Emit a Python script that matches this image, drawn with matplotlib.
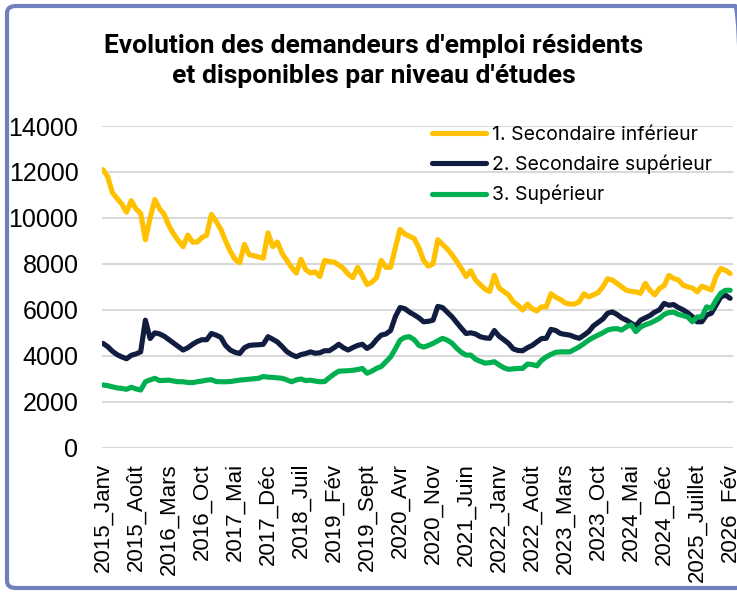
import matplotlib
matplotlib.use("Agg")
import matplotlib.pyplot as plt
from matplotlib.patches import FancyBboxPatch

# ── monthly data, 2015_Janv .. 2026_Fév (134 months) ───────────────────────
SEC_INF = [
    12100, 11800, 11100, 10850, 10600, 10250, 10750, 10400, 10200, 9050,
    10000, 10800, 10400, 10150, 9650, 9300, 9000, 8750, 9250, 8950,
    8950, 9150, 9250, 10150, 9850, 9500, 9000, 8550, 8200, 8050,
    8850, 8400, 8350, 8300, 8250, 9350, 8750, 8950, 8450, 8150,
    7850, 7600, 8200, 7750, 7600, 7650, 7450, 8150, 8100, 8080,
    7950, 7800, 7550, 7400, 7850, 7500, 7100, 7200, 7400, 8150,
    7850, 7850, 8700, 9500, 9300, 9200, 9100, 8700, 8150, 7900,
    8000, 9050, 8850, 8650, 8400, 8100, 7800, 7450, 7700, 7300,
    7100, 6900, 6800, 7500, 6950, 6800, 6650, 6350, 6200, 5990,
    6250, 6050, 5950, 6130, 6130, 6700, 6550, 6450, 6300, 6250,
    6250, 6350, 6700, 6560, 6650, 6750, 7000, 7350, 7300, 7150,
    7000, 6850, 6800, 6780, 6720, 7150, 6850, 6650, 6930, 7050,
    7500, 7370, 7300, 7080, 7000, 6950, 6780, 7030, 6950, 6860,
    7450, 7800, 7720, 7580,
]
SEC_SUP = [
    4540, 4400, 4200, 4050, 3950, 3870, 4020, 4080, 4170, 5550,
    4750, 5000, 4950, 4850, 4700, 4550, 4400, 4250, 4350, 4500,
    4620, 4700, 4700, 4970, 4900, 4800, 4450, 4250, 4150, 4100,
    4350, 4450, 4470, 4480, 4500, 4830, 4720, 4600, 4400, 4180,
    4050, 3960, 4050, 4100, 4170, 4110, 4130, 4220, 4220, 4350,
    4500, 4350, 4250, 4360, 4450, 4500, 4320, 4450, 4700, 4900,
    4950, 5100, 5700, 6100, 6050, 5900, 5780, 5650, 5480, 5500,
    5550, 6150, 6100, 5900, 5700, 5450, 5200, 4970, 5000, 4950,
    4830, 4780, 4760, 5100, 4850, 4700, 4540, 4300, 4230, 4220,
    4350, 4450, 4600, 4750, 4760, 5150, 5100, 4970, 4930, 4900,
    4820, 4760, 4900, 5050, 5300, 5450, 5600, 5850, 5910, 5800,
    5650, 5550, 5420, 5300, 5550, 5650, 5750, 5900, 6000, 6280,
    6200, 6230, 6100, 6000, 5870, 5700, 5480, 5480, 5770, 5850,
    6200, 6560, 6640, 6500,
]
SUP = [
    2730, 2700, 2650, 2600, 2580, 2540, 2630, 2560, 2510, 2870,
    2950, 3020, 2920, 2930, 2940, 2900, 2870, 2870, 2840, 2830,
    2870, 2900, 2940, 2960, 2880, 2870, 2870, 2880, 2910, 2940,
    2960, 2980, 3000, 3020, 3100, 3070, 3060, 3040, 3020, 2950,
    2870, 2950, 2990, 2920, 2940, 2900, 2870, 2880, 3050, 3200,
    3330, 3340, 3350, 3370, 3400, 3450, 3240, 3330, 3450, 3530,
    3740, 3950, 4300, 4680, 4800, 4830, 4700, 4450, 4380, 4450,
    4540, 4650, 4760, 4680, 4550, 4330, 4150, 4030, 4030, 3850,
    3760, 3680, 3700, 3740, 3600, 3480, 3410, 3430, 3450, 3450,
    3640, 3620, 3560, 3800, 3950, 4060, 4150, 4170, 4170, 4170,
    4280, 4390, 4530, 4680, 4800, 4900, 5000, 5120, 5170, 5180,
    5120, 5260, 5350, 5050, 5250, 5350, 5420, 5520, 5630, 5800,
    5880, 5900, 5800, 5750, 5690, 5480, 5690, 5700, 6130, 6060,
    6420, 6720, 6850, 6850,
]
TICK_LABELS = [
    "2015_Janv", "2015_Août", "2016_Mars", "2016_Oct", "2017_Mai",
    "2017_Déc", "2018_Juil", "2019_Fév", "2019_Sept", "2020_Avr",
    "2020_Nov", "2021_Juin", "2022_Janv", "2022_Août", "2023_Mars",
    "2023_Oct", "2024_Mai", "2024_Déc", "2025_Juillet", "2026_Fév",
]
SERIES_NAMES = ["1. Secondaire inférieur", "2. Secondaire supérieur", "3. Supérieur"]
Y_TICKS = [0, 2000, 4000, 6000, 8000, 10000, 12000, 14000]

# ── style ──────────────────────────────────────────────────────────────────
YELLOW, NAVY, GREEN = "#FFC000", "#111D40", "#00B050"
GRID, BORDER = "#D9D9D9", "#7080BC"
W, H = 737, 592

plt.rcParams["font.family"] = ["Liberation Sans", "DejaVu Sans"]

fig = plt.figure(figsize=(W / 100, H / 100), dpi=100)
ax = fig.add_axes([102 / W, 1 - 447.7 / H, (733 - 102) / W, (447.7 - 126) / H])

x = list(range(len(SEC_INF)))
for vals, col, name in zip([SEC_INF, SEC_SUP, SUP], [YELLOW, NAVY, GREEN], SERIES_NAMES):
    ax.plot(x, vals, color=col, lw=3.7, solid_joinstyle="round",
            solid_capstyle="round", label=name, zorder=3)

ax.set_xlim(-0.2, 133.6)
ax.set_ylim(0, 14000)
ax.set_yticks(Y_TICKS)
ax.set_yticklabels([str(v) for v in Y_TICKS])
ax.set_xticks(list(range(0, len(SEC_INF), 7)))
ax.set_xticklabels(TICK_LABELS, rotation=90)
ax.tick_params(axis="y", length=0, pad=17, labelsize=18)
ax.tick_params(axis="x", length=0, pad=11, labelsize=16)
ax.grid(axis="y", color=GRID, lw=1.5)
ax.set_axisbelow(True)
for s in ax.spines.values():
    s.set_visible(False)

leg = ax.legend(loc="upper left", bbox_to_anchor=(432 / W, 1 - 126 / H),
                bbox_transform=fig.transFigure, frameon=False, fontsize=14,
                handlelength=2.8, handletextpad=0.3, labelspacing=0.55,
                borderpad=0, borderaxespad=0)
for t in leg.get_texts():
    t.set_family(["Inter", "DejaVu Sans"])

fig.text(374 / W, 1 - 61 / H,
         "Evolution des demandeurs d'emploi résidents\net disponibles par niveau d'études",
         ha="center", va="center", fontsize=19, fontweight="bold",
         linespacing=1.34, family=["Roboto", "DejaVu Sans"])

# rounded frame, cut on the right like the source screenshot
fig.patches.append(FancyBboxPatch((7 / W, 4 / H), 1.0, (588 - 6) / H,
                                  boxstyle="round,pad=0,rounding_size=0.012",
                                  transform=fig.transFigure, fill=False,
                                  ec=BORDER, lw=3, clip_on=False))

fig.savefig("out.png", dpi=100)
